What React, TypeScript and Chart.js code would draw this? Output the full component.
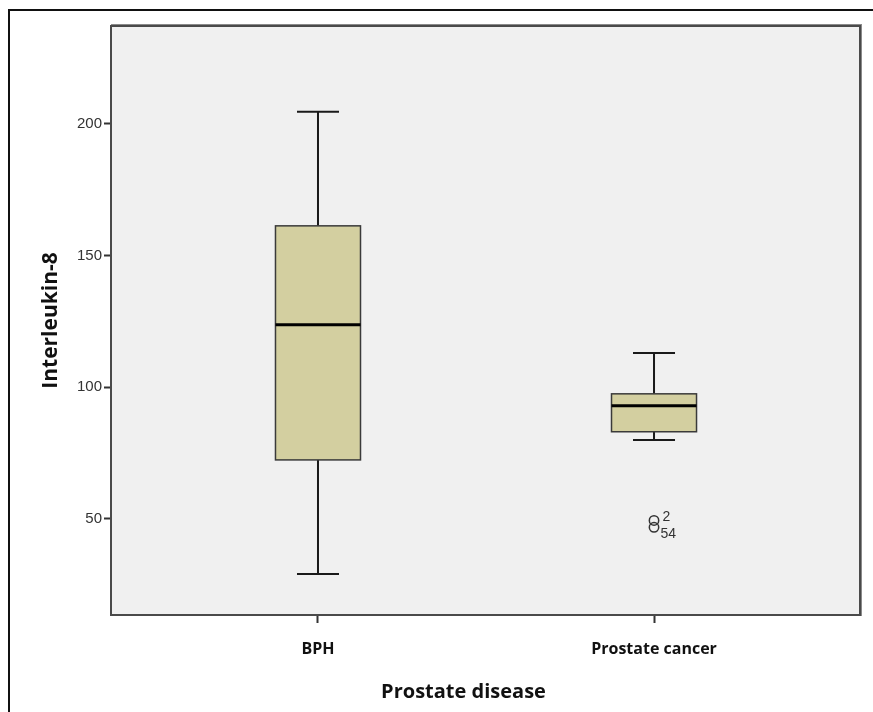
import React, { useEffect, useRef } from 'react';
import { Chart, registerables } from 'chart.js';

Chart.register(...registerables);

// ---- data ----
const categories = ['BPH', 'Prostate cancer'];
const whiskerLow = [29.1, 80.0];
const q1 = [72.4, 83.1];
const median = [123.7, 93.0];
const q3 = [161.3, 97.5];
const whiskerHigh = [204.6, 113.0];
const outlierCategory = [2, 2];
const outlierValues = [49.4, 46.8];
const outlierLabels = ['2', '54'];
const yTicks = [50, 100, 150, 200];
const xTitle = 'Prostate disease';
const yTitle = 'Interleukin-8';

const BOX_HALF = 0.1265;
const CAP_HALF = 0.0625;

const boxPlugin = {
  id: 'spssBoxes',
  beforeDraw(chart: any) {
    const { ctx, chartArea: a } = chart;
    ctx.save();
    ctx.fillStyle = '#ffffff';
    ctx.fillRect(0, 0, chart.width, chart.height);
    ctx.fillStyle = '#111111';
    ctx.fillRect(8, 9, 2, chart.height - 9);
    ctx.fillRect(8, 9, chart.width - 8, 2);
    ctx.fillStyle = '#f0f0f0';
    ctx.fillRect(a.left, a.top, a.right - a.left, a.bottom - a.top);
    ctx.restore();
  },
  beforeDatasetsDraw(chart: any) {
    const { ctx } = chart;
    const xs = chart.scales.x;
    const ys = chart.scales.y;
    ctx.save();
    categories.forEach((_, i) => {
      const c = i + 1;
      const xc = xs.getPixelForValue(c);
      const xl = xs.getPixelForValue(c - BOX_HALF);
      const xr = xs.getPixelForValue(c + BOX_HALF);
      const cl = xs.getPixelForValue(c - CAP_HALF);
      const cr = xs.getPixelForValue(c + CAP_HALF);
      const yLo = ys.getPixelForValue(whiskerLow[i]);
      const yQ1 = ys.getPixelForValue(q1[i]);
      const yMed = ys.getPixelForValue(median[i]);
      const yQ3 = ys.getPixelForValue(q3[i]);
      const yHi = ys.getPixelForValue(whiskerHigh[i]);
      ctx.strokeStyle = '#1a1a1a';
      ctx.lineWidth = 2;
      ctx.beginPath();
      ctx.moveTo(xc, yHi);
      ctx.lineTo(xc, yQ3);
      ctx.moveTo(xc, yQ1);
      ctx.lineTo(xc, yLo);
      ctx.moveTo(cl, yHi);
      ctx.lineTo(cr, yHi);
      ctx.moveTo(cl, yLo);
      ctx.lineTo(cr, yLo);
      ctx.stroke();
      ctx.fillStyle = '#d3cfa0';
      ctx.fillRect(xl, yQ3, xr - xl, yQ1 - yQ3);
      ctx.strokeStyle = '#3a3a3a';
      ctx.lineWidth = 1.5;
      ctx.strokeRect(xl, yQ3, xr - xl, yQ1 - yQ3);
      ctx.strokeStyle = '#000000';
      ctx.lineWidth = 3;
      ctx.beginPath();
      ctx.moveTo(xl, yMed);
      ctx.lineTo(xr, yMed);
      ctx.stroke();
    });
    ctx.restore();
  },
  afterDatasetsDraw(chart: any) {
    const { ctx, chartArea: a } = chart;
    ctx.save();
    ctx.strokeStyle = '#8a8a8a';
    ctx.lineWidth = 1;
    ctx.strokeRect(a.left + 0.5, a.top - 1.5, a.right - a.left + 1, a.bottom - a.top + 2);
    ctx.strokeStyle = '#4a4a4a';
    ctx.lineWidth = 2;
    ctx.strokeRect(a.left, a.top, a.right - a.left, a.bottom - a.top);
    const meta = chart.getDatasetMeta(0);
    ctx.fillStyle = '#333333';
    ctx.font = '14px "Liberation Sans", Arial, sans-serif';
    ctx.textAlign = 'left';
    ctx.textBaseline = 'middle';
    meta.data.forEach((pt: any, i: number) => {
      const dy = i === 0 ? -3.5 : 6.5;
      const dx = i === 0 ? 8.5 : 6.5;
      ctx.fillText(outlierLabels[i], pt.x + dx, pt.y + dy);
    });
    // x-axis title (SPSS places it slightly left of the plot centre)
    ctx.fillStyle = '#111111';
    ctx.font = 'bold 20px "Open Sans", sans-serif';
    ctx.textAlign = 'center';
    ctx.textBaseline = 'middle';
    ctx.fillText(xTitle, (a.left + a.right) / 2 - 22, chart.height - 20);
    ctx.restore();
  },
};

export default function App() {
  const ref = useRef<HTMLCanvasElement | null>(null);
  useEffect(() => {
    document.body.style.margin = '0';
    const canvas = ref.current;
    if (!canvas) return;
    const chart = new Chart(canvas, {
      type: 'scatter',
      data: {
        datasets: [
          {
            data: outlierValues.map((v, i) => ({ x: outlierCategory[i], y: v })),
            pointStyle: 'circle',
            pointRadius: 4.7,
            pointBorderWidth: 1.5,
            pointBorderColor: '#333333',
            pointBackgroundColor: 'rgba(0,0,0,0)',
            showLine: false,
          },
        ],
      },
      options: {
        responsive: false,
        animation: false,
        events: [],
        layout: { padding: { left: 0, top: 26, right: 13, bottom: 0 } },
        plugins: { legend: { display: false }, tooltip: { enabled: false } },
        scales: {
          x: {
            type: 'linear',
            min: 0.384,
            max: 2.613,
            afterBuildTicks: (s: any) => {
              s.ticks = categories.map((_, i) => ({ value: i + 1 }));
            },
            afterFit: (s: any) => {
              s.height = 97;
            },
            ticks: {
              autoSkip: false,
              maxRotation: 0,
              padding: 17,
              color: '#111111',
              font: { family: '"Open Sans", sans-serif', weight: 'bold', size: 16 },
              callback: (_v: any, i: number) => categories[i],
            },
            grid: { drawOnChartArea: false, drawTicks: true, tickLength: 8, tickColor: '#333333', tickWidth: 2 },
            border: { display: false },
            title: { display: false },
          },
          y: {
            type: 'linear',
            min: 13.5,
            max: 237.2,
            afterBuildTicks: (s: any) => {
              s.ticks = yTicks.map((v) => ({ value: v }));
            },
            afterFit: (s: any) => {
              s.width = 111;
            },
            ticks: {
              padding: 2,
              color: '#333333',
              font: { family: '"Liberation Sans", Arial, sans-serif', size: 15 },
            },
            grid: { drawOnChartArea: false, drawTicks: true, tickLength: 7, tickColor: '#333333', tickWidth: 2 },
            border: { display: false },
            title: {
              display: true,
              text: yTitle,
              color: '#111111',
              font: { family: '"Open Sans", sans-serif', weight: 'bold', size: 21 },
              padding: { top: 38, bottom: 0 },
            },
          },
        },
      },
      plugins: [boxPlugin],
    } as any);
    return () => chart.destroy();
  }, []);
  return <canvas ref={ref} width={873} height={712} style={{ display: 'block' }} />;
}
